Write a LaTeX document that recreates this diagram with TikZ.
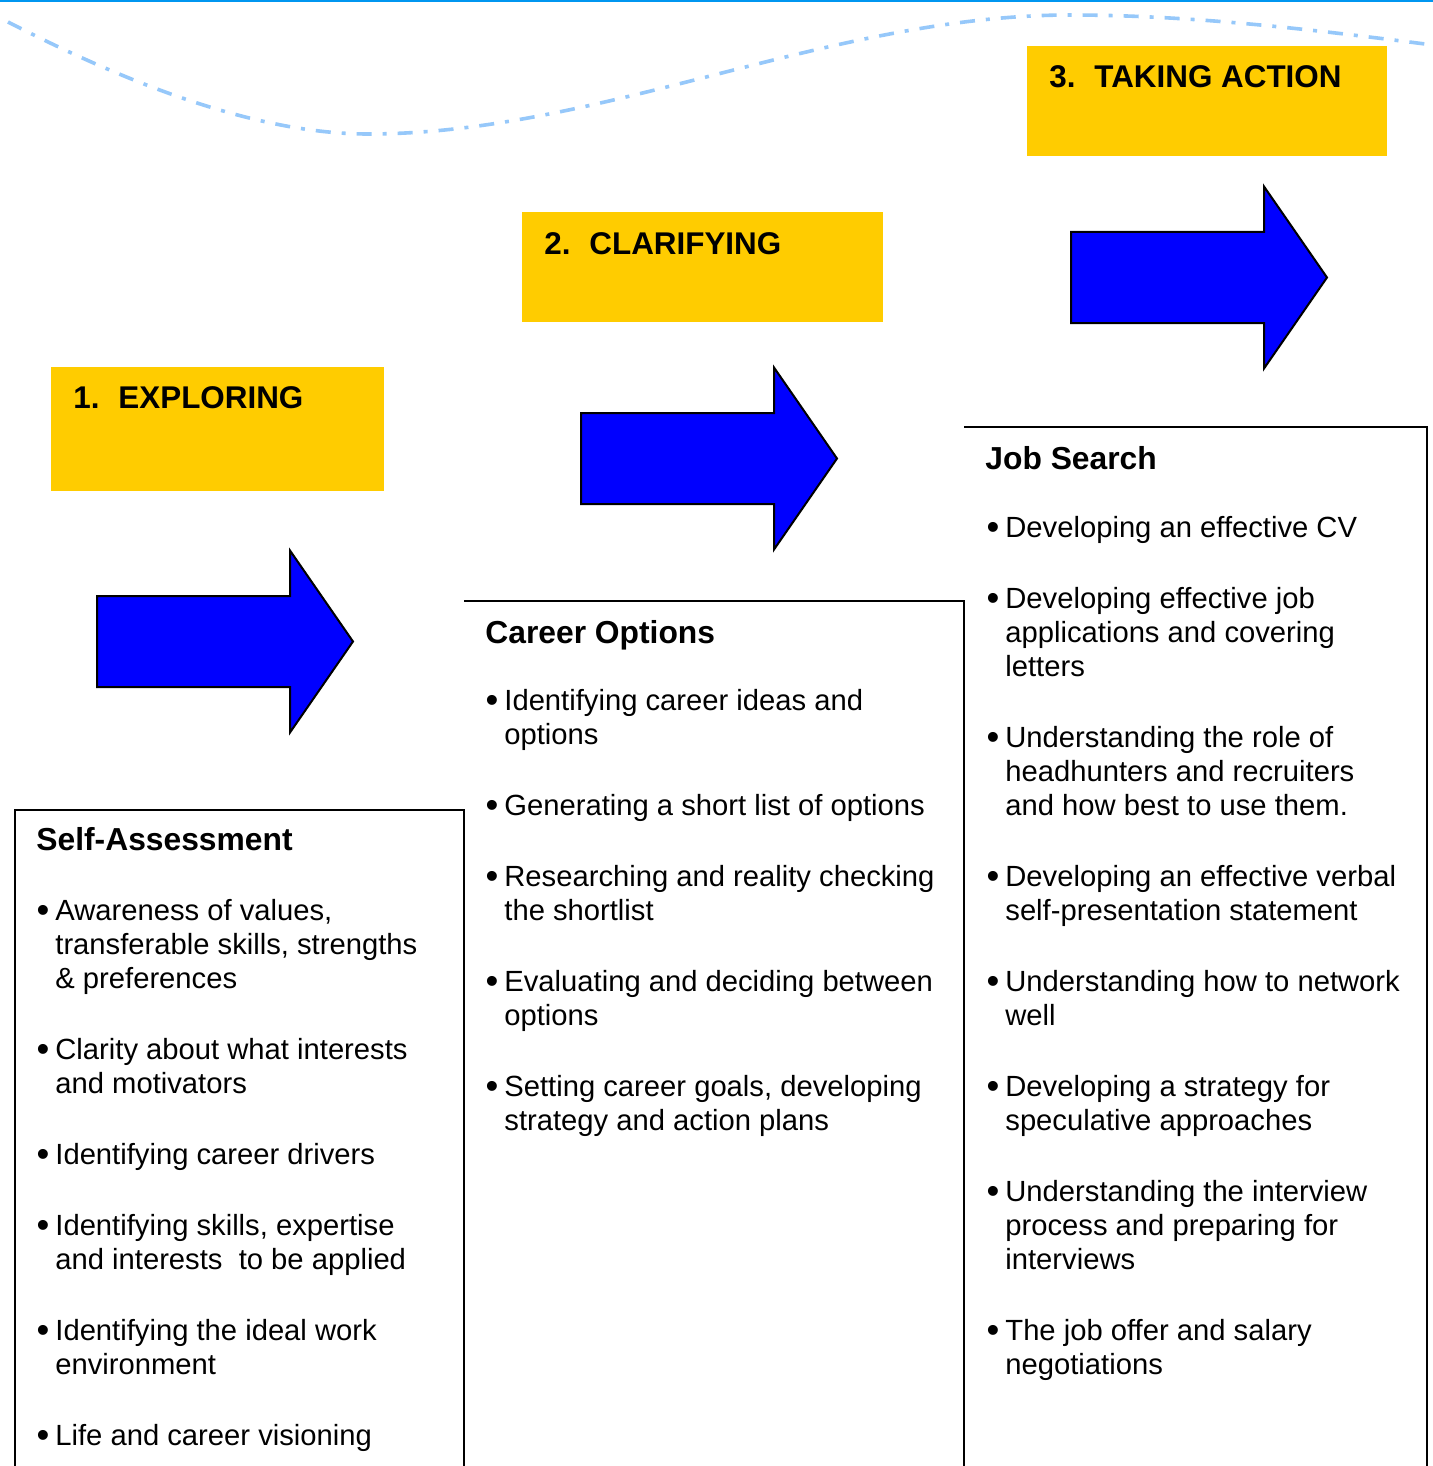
\documentclass[tikz,border=0pt]{standalone}
\usepackage{fontspec}
\setmainfont{Liberation Sans}
\usetikzlibrary{positioning}

\definecolor{stageyellow}{RGB}{255,204,0}
\definecolor{arrowblue}{RGB}{0,0,255}
\definecolor{rulecolor}{RGB}{0,150,240}
\definecolor{wavecolor}{RGB}{150,200,250}

\newcommand{\itm}{\llap{\raisebox{-0.09em}{\scalebox{1.25}{\textbullet}}\hspace{3pt}}}
\newcommand{\itemgap}{18.5pt}

\tikzset{
    stagetitle/.style={anchor=base west, inner sep=0pt, font=\fontsize{15.7}{18}\selectfont\bfseries},
    listhead/.style={anchor=base west, inner sep=0pt, font=\fontsize{15.9}{18}\selectfont\bfseries},
    listbody/.style={anchor=base west, inner sep=0pt, font=\fontsize{14.6}{17}\selectfont},
    panel/.style={draw=black, line width=1pt},
    bigarrow/.style={fill=arrowblue, draw=black, line width=1pt, line join=miter},
    wave/.style={draw=wavecolor, line width=1.8pt, dash pattern=on 7.5pt off 5.5pt on 2pt off 5.5pt}
}

\begin{document}
\begin{tikzpicture}[x=0.5pt, y=-0.5pt]
        \fill[white] (0,0) rectangle (1433,1466);
        \useasboundingbox (0,0) rectangle (1433,1466);
        \clip (0,0) rectangle (1433,1466);

        % rule and wave along the top
        \draw[rulecolor, line width=1pt] (0,1) -- (1433,1);
        \draw[wave] (8,22) .. controls (150,95) and (270,134) .. (368,134)
            .. controls (600,134) and (830,15) .. (1070,15)
            .. controls (1200,15) and (1330,32) .. (1433,45);

        % stage labels
        \fill[stageyellow] (51,367) rectangle (384,491);
        \fill[stageyellow] (522,212) rectangle (883,322);
        \fill[stageyellow] (1027,46) rectangle (1387,156);
        \node[stagetitle] (explore) at (73,408) {1.\hspace{0.6em}EXPLORING};
        \node[stagetitle] (clarify) at (544,255) {2.\hspace{0.6em}CLARIFYING};
        \node[stagetitle] (action) at (1049,88) {3.\hspace{0.6em}TAKING ACTION};

        % block arrows
        \foreach \ax/\ay in {97/641.5, 581/458.5, 1071/277.5}
        \draw[bigarrow] (\ax,\ay-45.5) -- (\ax+193,\ay-45.5) -- (\ax+193,\ay-91)
            -- (\ax+256,\ay) -- (\ax+193,\ay+91) -- (\ax+193,\ay+45.5)
            -- (\ax,\ay+45.5) -- cycle;

        % the three steps
        \draw[panel] (15,1480) -- (15,810) -- (464,810) -- (464,1480);
        \draw[panel] (464,601) -- (964,601) -- (964,1480);
        \draw[panel] (964,427) -- (1427,427) -- (1427,1480);

        \node[listhead] (selfhead) at (36,850) {Self-Assessment};
        \node[listbody] (selflist) at (55,920) {\begin{tabular}[t]{@{}l@{}}
            \itm Awareness of values,\\
            transferable skills, strengths\\
            \& preferences\\[\itemgap]
            \itm Clarity about what interests\\
            and motivators\\[\itemgap]
            \itm Identifying career drivers\\[\itemgap]
            \itm Identifying skills, expertise\\
            and interests\ \ to be applied\\[\itemgap]
            \itm Identifying the ideal work\\
            environment\\[\itemgap]
            \itm Life and career visioning
        \end{tabular}};

        \node[listhead] (careerhead) at (485,643) {Career Options};
        \node[listbody] (careerlist) at (504,710) {\begin{tabular}[t]{@{}l@{}}
            \itm Identifying career ideas and\\
            options\\[\itemgap]
            \itm Generating a short list of options\\[\itemgap]
            \itm Researching and reality checking\\
            the shortlist\\[\itemgap]
            \itm Evaluating and deciding between\\
            options\\[\itemgap]
            \itm Setting career goals, developing\\
            strategy and action plans
        \end{tabular}};

        \node[listhead] (jobhead) at (985,469) {Job Search};
        \node[listbody] (joblist) at (1005,537) {\begin{tabular}[t]{@{}l@{}}
            \itm Developing an effective CV\\[\itemgap]
            \itm Developing effective job\\
            applications and covering\\
            letters\\[\itemgap]
            \itm Understanding the role of\\
            headhunters and recruiters\\
            and how best to use them.\\[\itemgap]
            \itm Developing an effective verbal\\
            self-presentation statement\\[\itemgap]
            \itm Understanding how to network\\
            well\\[\itemgap]
            \itm Developing a strategy for\\
            speculative approaches\\[\itemgap]
            \itm Understanding the interview\\
            process and preparing for\\
            interviews\\[\itemgap]
            \itm The job offer and salary\\
            negotiations
        \end{tabular}};
\end{tikzpicture}
\end{document}
